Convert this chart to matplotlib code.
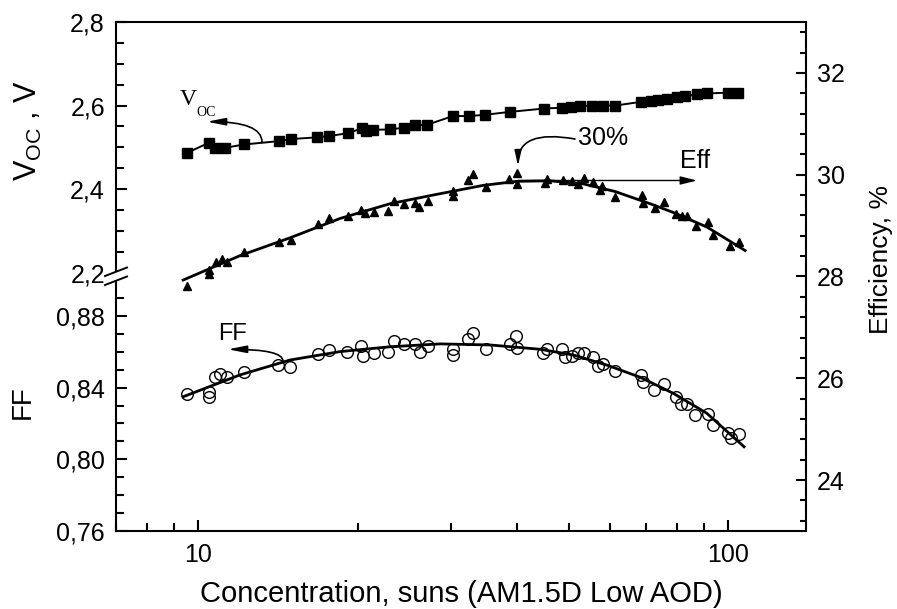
import numpy as np
import matplotlib
matplotlib.use('Agg')
import matplotlib.pyplot as plt
from matplotlib.ticker import FixedLocator, MultipleLocator, LogLocator, NullFormatter, NullLocator
from matplotlib.patches import Polygon
from matplotlib.lines import Line2D

plt.rcParams['font.family'] = ['Liberation Sans', 'DejaVu Sans']
plt.rcParams['mathtext.default'] = 'regular'

# ---------------- data ----------------
voc_x = [9.53, 10.48, 10.77, 11.24, 12.21, 14.22, 14.98, 16.77, 17.63, 19.19, 20.40, 20.75,
         21.34, 23.03, 24.47, 25.67, 27.02, 30.27, 32.45, 34.80, 38.79, 44.96, 48.62, 50.55,
         52.58, 55.39, 58.11, 61.21, 68.52, 71.53, 73.75, 76.70, 80.12, 82.96, 87.39, 91.28,
         100.0, 104.4]
voc = [2.487, 2.511, 2.499, 2.499, 2.507, 2.515, 2.520, 2.524, 2.527, 2.534, 2.546, 2.539,
       2.542, 2.543, 2.547, 2.553, 2.554, 2.575, 2.575, 2.578, 2.585, 2.593, 2.595, 2.597,
       2.599, 2.600, 2.600, 2.600, 2.609, 2.612, 2.613, 2.615, 2.620, 2.623, 2.627, 2.629,
       2.631, 2.631]

eff_x = [9.55, 10.50, 10.50, 10.81, 11.08, 11.36, 12.21, 14.24, 14.96, 16.84, 17.69, 19.15,
         20.30, 20.61, 21.46, 22.86, 23.43, 24.50, 25.67, 26.16, 27.13, 30.23, 30.31, 32.36,
         32.98, 34.90, 38.67, 39.93, 39.93, 45.06, 45.49, 48.90, 50.71, 52.19, 53.55, 55.63,
         57.35, 57.85, 61.21, 68.74, 69.12, 72.82, 75.70, 79.77, 81.88, 83.58, 87.01, 91.80,
         93.83, 100.99, 105.0]
eff = [27.82, 28.04, 28.13, 28.28, 28.35, 28.28, 28.48, 28.68, 28.72, 29.04, 29.14, 29.18,
       29.31, 29.24, 29.27, 29.28, 29.49, 29.43, 29.44, 29.36, 29.48, 29.67, 29.59, 29.89,
       30.01, 29.75, 29.92, 30.04, 29.81, 29.83, 29.92, 29.90, 29.88, 29.82, 29.93, 29.85,
       29.69, 29.77, 29.57, 29.60, 29.44, 29.35, 29.46, 29.23, 29.19, 29.19, 29.00, 29.08,
       28.82, 28.59, 28.68]

eff_fit_x = [9.37, 12.00, 14.91, 18.53, 23.03, 27.76, 34.49, 39.99, 46.16, 53.27, 61.21,
             71.25, 78.74, 91.28, 107.7]
eff_fit = [27.93, 28.41, 28.76, 29.14, 29.43, 29.60, 29.79, 29.87, 29.88, 29.82, 29.67,
           29.43, 29.26, 28.97, 28.51]

ff_x = [9.53, 10.50, 10.50, 10.77, 11.02, 11.33, 12.20, 14.17, 14.91, 16.83, 17.69, 19.10,
        20.32, 20.48, 21.48, 22.86, 23.40, 24.49, 25.67, 26.18, 27.14, 30.31, 30.31, 32.36,
        32.98, 34.95, 38.79, 39.81, 40.04, 44.83, 45.49, 48.55, 49.26, 50.71, 52.19, 53.50,
        55.70, 56.93, 58.18, 61.07, 68.52, 69.04, 72.41, 75.70, 79.70, 81.53, 83.50, 86.64,
        91.80, 93.83, 100.0, 101.3, 105.0]
ff = [0.8363, 0.8373, 0.8349, 0.8461, 0.8474, 0.8459, 0.8485, 0.8525, 0.8517, 0.8589, 0.8610,
      0.8597, 0.8635, 0.8577, 0.8592, 0.8601, 0.8659, 0.8645, 0.8644, 0.8596, 0.8633, 0.8614,
      0.8582, 0.8670, 0.8703, 0.8614, 0.8644, 0.8688, 0.8620, 0.8592, 0.8614, 0.8614, 0.8569,
      0.8577, 0.8595, 0.8595, 0.8569, 0.8521, 0.8532, 0.8492, 0.8471, 0.8433, 0.8389, 0.8422,
      0.8349, 0.8310, 0.8310, 0.8247, 0.8253, 0.8189, 0.8147, 0.8119, 0.8143]

ff_fit_x = [9.37, 12.00, 14.91, 18.53, 23.03, 28.61, 35.56, 44.19, 51.06, 59.03, 68.23,
            78.84, 91.17, 107.2]
ff_fit = [0.8349, 0.8471, 0.8554, 0.8601, 0.8628, 0.8644, 0.8638, 0.8614, 0.8582, 0.8526,
          0.8458, 0.8368, 0.8257, 0.8070]

x_ticks = [10, 100]
x_ticklabels = ['10', '100']
voc_ticks = [2.2, 2.4, 2.6, 2.8]
voc_ticklabels = ['2,2', '2,4', '2,6', '2,8']
ff_ticks = [0.76, 0.80, 0.84, 0.88]
ff_ticklabels = ['0,76', '0,80', '0,84', '0,88']
eff_ticks = [24, 26, 28, 30, 32]
eff_ticklabels = ['24', '26', '28', '30', '32']

XLIM = (7.0, 140.3)

# ---------------- layout ----------------
FW, FH = 897, 609
fig = plt.figure(figsize=(FW / 100, FH / 100), dpi=100)
def fxp(p): return p / FW
def fyp(p): return 1 - p / FH

L, R = 116, 806
TOP, BOT, BRK = 22, 531, 276.5
ax_top = fig.add_axes([fxp(L), fyp(BRK), fxp(R - L), (BRK - TOP) / FH])
ax_bot = fig.add_axes([fxp(L), fyp(BOT), fxp(R - L), (BOT - BRK) / FH])
ax_r = fig.add_axes([fxp(L), fyp(BOT), fxp(R - L), (BOT - TOP) / FH])
ax_r.patch.set_visible(False)

SPW = 1.5
TK = 18
for ax in (ax_top, ax_bot, ax_r):
    ax.set_xscale('log')
    ax.set_xlim(*XLIM)
    for s in ax.spines.values():
        s.set_linewidth(SPW)

# upper: Voc
ax_top.set_ylim(2.1911, 2.8)
ax_top.spines['bottom'].set_visible(False)
ax_top.spines['right'].set_visible(False)
ax_top.set_yticks(voc_ticks, voc_ticklabels)
ax_top.yaxis.set_minor_locator(MultipleLocator(0.05))
ax_top.tick_params(axis='x', which='both', bottom=False, top=False, labelbottom=False)
ax_top.tick_params(axis='y', which='both', direction='in', left=True, right=False,
                   width=SPW, labelsize=TK, pad=8)
ax_top.tick_params(axis='y', which='major', length=8)
ax_top.tick_params(axis='y', which='minor', length=5.5)
ax_top.plot(voc_x, voc, '-', color='black', lw=1.4, marker='s', ms=7.4, mfc='black',
            mec='black', zorder=3)

# lower: FF
ax_bot.set_ylim(0.76, 0.9020)
ax_bot.spines['top'].set_visible(False)
ax_bot.spines['right'].set_visible(False)
ax_bot.set_yticks(ff_ticks, ff_ticklabels)
ax_bot.yaxis.set_minor_locator(FixedLocator(np.round(np.arange(0.77, 0.895, 0.01), 2)))
ax_bot.set_xticks(x_ticks, x_ticklabels)
ax_bot.xaxis.set_minor_locator(LogLocator(base=10, subs=np.arange(2, 10)))
ax_bot.xaxis.set_minor_formatter(NullFormatter())
ax_bot.tick_params(axis='both', which='both', direction='in', width=SPW, labelsize=TK)
ax_bot.tick_params(axis='y', which='both', left=True, right=False, pad=8)
ax_bot.tick_params(axis='x', which='both', bottom=True, top=False, pad=9)
ax_bot.tick_params(which='major', length=8)
ax_bot.tick_params(which='minor', length=5.5)
ax_bot.plot(ff_fit_x, ff_fit, '-', color='black', lw=2.0, zorder=2)
ax_bot.plot(ff_x, ff, linestyle='none', marker='o', ms=8.4, mfc='none', mec='black',
            mew=1.0, zorder=3)

# right: efficiency
ax_r.set_ylim(23, 33)
for s in ('left', 'top', 'bottom'):
    ax_r.spines[s].set_visible(False)
ax_r.xaxis.set_major_locator(NullLocator())
ax_r.xaxis.set_minor_locator(NullLocator())
ax_r.yaxis.tick_right()
ax_r.set_yticks(eff_ticks, eff_ticklabels)
ax_r.yaxis.set_minor_locator(MultipleLocator(0.4))
ax_r.tick_params(axis='y', which='both', direction='in', right=True, left=False,
                 width=SPW, labelsize=TK, pad=8)
ax_r.tick_params(axis='y', which='major', length=7)
ax_r.tick_params(axis='y', which='minor', length=4.5)
ax_r.plot(eff_fit_x, eff_fit, '-', color='black', lw=2.0, zorder=2)
ax_r.plot(eff_x, eff, linestyle='none', marker='^', ms=6.4, mfc='black', mec='black',
          zorder=3)

# ---------------- annotations ----------------
def afx(p): return (p - L) / (R - L)
def afy(p): return (BOT - p) / (BOT - TOP)

ax_r.text(afx(180), afy(105), 'V', transform=ax_r.transAxes, ha='left', va='baseline',
          fontsize=17, family='Liberation Serif')
ax_r.text(afx(196), afy(115.7), 'OC', transform=ax_r.transAxes, ha='left', va='baseline',
          fontsize=10, family='Liberation Serif')
ax_r.text(afx(218), afy(340), 'FF', transform=ax_r.transAxes, ha='left', va='baseline',
          fontsize=17)
ax_r.text(afx(578), afy(145), '30%', transform=ax_r.transAxes, ha='left', va='baseline',
          fontsize=18)
ax_r.text(afx(680), afy(168), 'Eff', transform=ax_r.transAxes, ha='left', va='baseline',
          fontsize=18)

def arrow(start, end, conn, hl=1.0, hw=0.25, lw=1.2):
    ax_r.annotate('', xy=(afx(end[0]), afy(end[1])), xycoords='axes fraction',
                  xytext=(afx(start[0]), afy(start[1])), textcoords='axes fraction',
                  arrowprops=dict(arrowstyle=f'-|>,head_length={hl},head_width={hw}',
                                  color='black', lw=lw, shrinkA=0, shrinkB=0,
                                  connectionstyle=conn, mutation_scale=10))

arrow((262, 142), (207, 121.7), 'angle3,angleA=90,angleB=0', hl=1.1, hw=0.22)
arrow((283, 361), (228, 349.3), 'angle3,angleA=90,angleB=0', hl=1.1, hw=0.22)
arrow((575, 139), (518, 166), 'angle3,angleA=170,angleB=90', hl=0.9, hw=0.2)
arrow((518, 180.5), (697, 180.5), 'arc3,rad=0', hl=1.0, hw=0.25, lw=1.0)

# axis break marks on the left spine
fig.add_artist(Polygon([(fxp(104), fyp(276.5)), (fxp(128), fyp(267.5)),
                        (fxp(128), fyp(277)), (fxp(104), fyp(286))],
                       closed=True, facecolor='white', edgecolor='none',
                       transform=fig.transFigure, zorder=5))
for y0 in (276, 285):
    fig.add_artist(Line2D([fxp(105), fxp(127)], [fyp(y0), fyp(y0 - 8.5)], color='black',
                          lw=1.4, transform=fig.transFigure, zorder=6))

# axis titles
fig.text(fxp(28), fyp(130), r'V$_{OC}$ , V', rotation=90, ha='center', va='center',
         fontsize=22)
fig.text(fxp(22.5), fyp(402), 'FF', rotation=90, ha='center', va='center', fontsize=20)
fig.text(fxp(881), fyp(259.5), 'Efficiency, %', rotation=90, ha='center', va='center',
         fontsize=19)
fig.text(fxp(461), fyp(601.7), 'Concentration, suns (AM1.5D Low AOD)', ha='center',
         va='baseline', fontsize=21)

fig.savefig('out.png', dpi=100)
